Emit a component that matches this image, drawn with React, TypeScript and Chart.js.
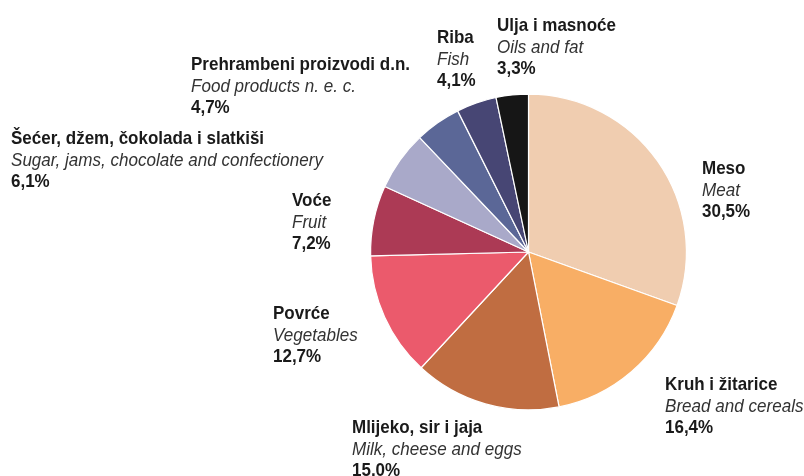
import React, { useEffect, useRef } from "react";
import { Chart, registerables } from "chart.js";

Chart.register(...registerables);

const categoriesHr = [
  "Meso",
  "Kruh i žitarice",
  "Mlijeko, sir i jaja",
  "Povrće",
  "Voće",
  "Šećer, džem, čokolada i slatkiši",
  "Prehrambeni proizvodi d.n.",
  "Riba",
  "Ulja i masnoće",
];
const categoriesEn = [
  "Meat",
  "Bread and cereals",
  "Milk, cheese and eggs",
  "Vegetables",
  "Fruit",
  "Sugar, jams, chocolate and confectionery",
  "Food products n. e. c.",
  "Fish",
  "Oils and fat",
];
const shares = [30.5, 16.4, 15.0, 12.7, 7.2, 6.1, 4.7, 4.1, 3.3];

const sliceColors = [
  "#F0CDB0",
  "#F8AE65",
  "#C06D41",
  "#EB5A6C",
  "#AC3A55",
  "#A9A9C9",
  "#5B6797",
  "#474674",
  "#161616",
];

// label block anchors (left x, first baseline y)
const labelAnchors: [number, number][] = [
  [702, 174],
  [665, 390],
  [352, 433],
  [273, 319],
  [292, 206],
  [11, 144],
  [191, 70],
  [437, 43],
  [497, 31],
];

const FONT = '"Liberation Sans", Arial, sans-serif';
const BOLD = `bold 19px ${FONT}`;
const ITAL = `italic 19px ${FONT}`;

const labelPlugin = {
  id: "sliceLabels",
  afterDraw(chart: any) {
    const ctx = chart.ctx;
    ctx.save();
    ctx.textAlign = "left";
    ctx.textBaseline = "alphabetic";
    // condense the font horizontally to mimic a narrow typeface
    ctx.font = BOLD;
    const sxBold = 219 / ctx.measureText(categoriesHr[6]).width;
    ctx.font = ITAL;
    const sxItal = 312 / ctx.measureText(categoriesEn[5]).width;
    const draw = (text: string, font: string, sx: number, x: number, y: number, color: string) => {
      ctx.save();
      ctx.font = font;
      ctx.fillStyle = color;
      ctx.translate(x, y);
      ctx.scale(sx, 1);
      ctx.fillText(text, 0, 0);
      ctx.restore();
    };
    const lh = 21.5;
    categoriesHr.forEach((name, i) => {
      const [x, y] = labelAnchors[i];
      draw(name, BOLD, sxBold, x, y, "#1a1a1a");
      draw(categoriesEn[i], ITAL, sxItal, x, y + lh, "#333333");
      draw(shares[i].toFixed(1).replace(".", ",") + "%", BOLD, sxBold, x, y + 2 * lh, "#1a1a1a");
    });
    ctx.restore();
  },
};

export default function App() {
  const ref = useRef<HTMLCanvasElement>(null);
  useEffect(() => {
    document.body.style.margin = "0";
    const chart = new Chart(ref.current!, {
      type: "pie",
      data: {
        labels: categoriesHr,
        datasets: [
          {
            data: shares,
            backgroundColor: sliceColors,
            borderColor: "#ffffff",
            borderWidth: 1.2,
          },
        ],
      },
      options: {
        animation: false,
        responsive: false,
        layout: { padding: { top: 93.5, bottom: 65.5, left: 370, right: 117 } },
        plugins: { legend: { display: false }, tooltip: { enabled: false } },
      },
      plugins: [labelPlugin],
    });
    return () => chart.destroy();
  }, []);
  return (
    <div style={{ width: 804, height: 476 }}>
      <canvas ref={ref} width={804} height={476} />
    </div>
  );
}
